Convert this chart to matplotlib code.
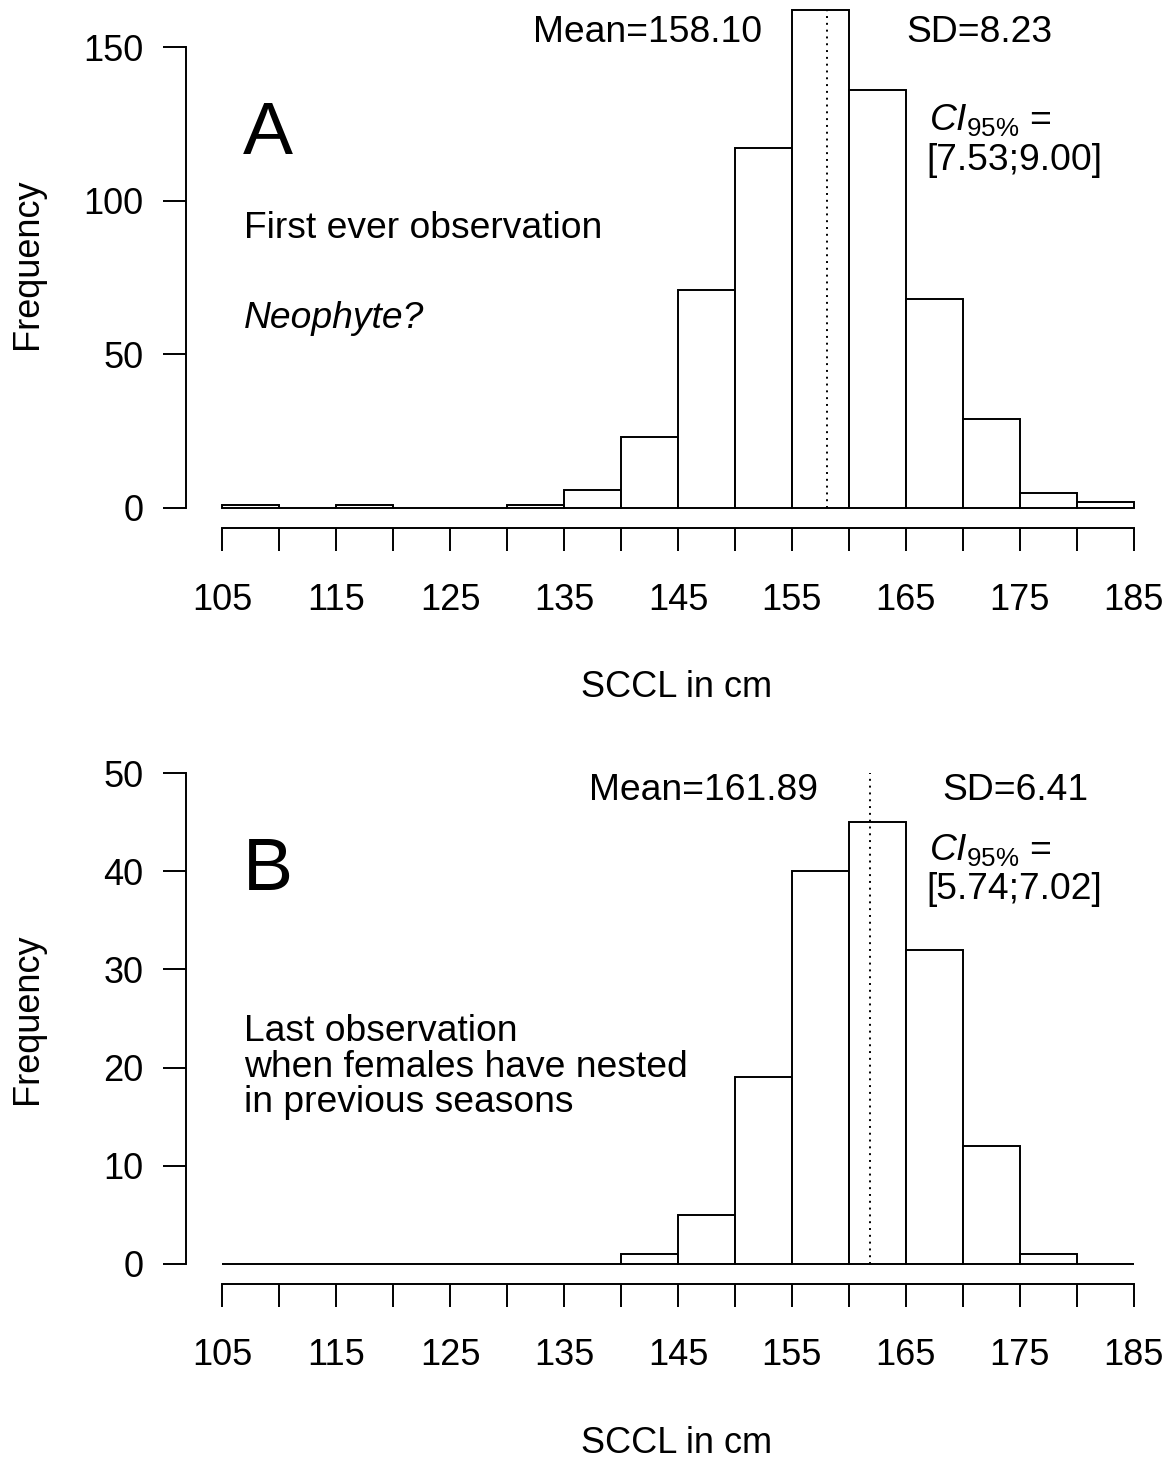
import matplotlib
matplotlib.use("Agg")
import matplotlib.pyplot as plt
import numpy as np

plt.rcParams['font.family'] = ['Liberation Sans', 'DejaVu Sans']
plt.rcParams['mathtext.fontset'] = 'custom'
plt.rcParams['mathtext.rm'] = 'Liberation Sans'
plt.rcParams['mathtext.it'] = 'Liberation Sans:italic'

# histogram data (bins of 5 cm, 105..185)
bin_edges = list(range(105, 186, 5))
counts_a = [1, 0, 1, 0, 0, 1, 6, 23, 71, 117, 162, 136, 68, 29, 5, 2]
counts_b = [0, 0, 0, 0, 0, 0, 0, 1, 5, 19, 40, 45, 32, 12, 1, 0]
mean_a, sd_a, ci_a = 158.10, 8.23, "[7.53;9.00]"
mean_b, sd_b, ci_b = 161.89, 6.41, "[5.74;7.02]"
xticks = list(range(105, 186, 5))
xticklabels = [str(t) if (t - 105) % 10 == 0 else "" for t in xticks]
yticks_a = [0, 50, 100, 150]
yticks_b = [0, 10, 20, 30, 40, 50]

FS = 26
FS_TXT = 26.8
W, H = 1171, 1461

fig = plt.figure(figsize=(W / 100, H / 100), dpi=100)


def panel(rect, counts, ylim, yticks, line_top, mean, sd, ci, letter, notes,
          note_style, pos, xlab_y):
    ax = fig.add_axes(rect)
    ax.bar(bin_edges[:-1], counts, width=5, align='edge', facecolor='white',
           edgecolor='black', linewidth=1.4, zorder=2)
    ax.plot([mean, mean], [0, line_top], color='black', linestyle=(0, (1, 2.5)),
            linewidth=1.4, zorder=3)
    ax.set_xlim(101.8, 188.2)
    ax.set_ylim(*ylim)
    for s in ['top', 'right']:
        ax.spines[s].set_visible(False)
    ax.spines['left'].set_bounds(yticks[0], yticks[-1])
    ax.spines['bottom'].set_bounds(105, 185)
    for s in ['left', 'bottom']:
        ax.spines[s].set_linewidth(1.4)
    ax.set_xticks(xticks)
    ax.set_xticklabels(xticklabels)
    ax.set_yticks(yticks)
    ax.tick_params(axis='both', length=16.5, width=1.4, labelsize=FS)
    ax.tick_params(axis='y', pad=14)
    ax.tick_params(axis='x', pad=23)
    ax.text(0.499, xlab_y, "SCCL in cm", fontsize=FS, ha='center', va='baseline',
            transform=ax.transAxes)
    ax.text(-0.1606, 0.5, "Frequency", fontsize=FS, ha='center', va='center',
            rotation=90, transform=ax.transAxes)
    ax.patch.set_visible(False)

    t = ax.transData
    ax.text(pos['mean'][0], pos['mean'][1], f"Mean={mean:.2f}", fontsize=FS_TXT,
            ha='center', va='center', transform=t)
    ax.text(pos['sd'][0], pos['sd'][1], f"SD={sd:.2f}", fontsize=FS_TXT,
            ha='center', va='center', transform=t)
    ax.text(pos['ci'][0], pos['ci'][1], r"$\mathit{CI}_{95\%}$ =", fontsize=FS_TXT,
            ha='left', va='center', transform=t)
    ax.text(pos['ci2'][0], pos['ci2'][1], ci, fontsize=FS_TXT,
            ha='left', va='center', transform=t)
    ax.text(pos['letter'][0], pos['letter'][1], letter, fontsize=54,
            ha='left', va='center', transform=t)
    for (nx, ny), txt in zip(pos['notes'], notes):
        ax.text(nx, ny, txt, fontsize=FS_TXT, ha='left', va='center',
                style=note_style.get(txt, 'normal'), transform=t)
    return ax


# panel A
ya0, ya_scale = 508.0, 3.0733
top_a = ya0 / ya_scale
bot_a = -6.48
rect_a = [186 / W, 1 - 527.9 / H, (1170 - 186) / W, 527.9 / H]
panel(rect_a, counts_a, (bot_a, top_a), yticks_a, 162, mean_a, sd_a, ci_a, "A",
      ["First ever observation", "Neophyte?"], {"Neophyte?": 'italic'},
      {'mean': (142.3, 154.6), 'sd': (171.5, 154.6), 'ci': (167.0, 126.3),
       'ci2': (166.8, 113.2), 'letter': (106.8, 121.4),
       'notes': [(106.9, 90.8), (106.9, 61.8)]},
      -0.3203)

# panel B
rect_b = [186 / W, 1 - 1283.6 / H, (1170 - 186) / W, (1283.6 - 753.4) / H]
panel(rect_b, counts_b, (-2, 52), yticks_b, 50, mean_b, sd_b, ci_b, "B",
      ["Last observation", "when females have nested", "in previous seasons"], {},
      {'mean': (147.2, 48.2), 'sd': (174.6, 48.2), 'ci': (167.0, 42.2),
       'ci2': (166.8, 38.1), 'letter': (106.8, 40.1),
       'notes': [(106.9, 23.7), (106.9, 20.06), (106.9, 16.4)]},
      -0.3189)

fig.savefig("out.png", dpi=100)
